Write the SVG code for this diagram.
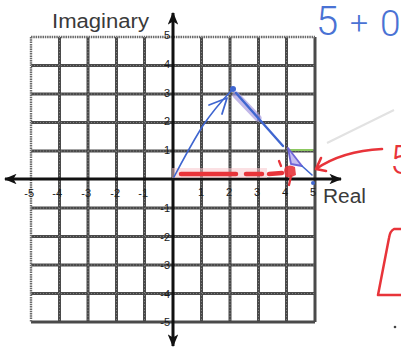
<svg xmlns="http://www.w3.org/2000/svg" width="401" height="350" viewBox="0 0 401 350">
<defs>
<style>
.grid{stroke:#4a4a4a;stroke-width:3;fill:none}
.gridin{stroke:#a8a8a8;stroke-width:0.6;stroke-dasharray:1 2;fill:none}
.border{stroke:#6a6a6a;stroke-width:2.4;fill:none;stroke-dasharray:1.5 0.8}
.axis{stroke:#111;stroke-width:3;fill:none}
.tick{font-family:"Liberation Sans",Arial,sans-serif;font-size:11px;fill:#1a1a1a}
.lbl{font-family:"Liberation Sans",Arial,sans-serif;font-size:20px;fill:#3a3a3a}
.hand{font-family:Roboto,"Liberation Sans",sans-serif;font-weight:300}
.blue{stroke:#3f66d0;fill:none;stroke-linecap:round;stroke-linejoin:round}
.red{stroke:#e8343a;fill:none;stroke-linecap:round;stroke-linejoin:round}
</style>
<marker id="ah" viewBox="0 0 12 10" refX="11" refY="5" markerWidth="4.2" markerHeight="3.6" orient="auto-start-reverse" markerUnits="strokeWidth">
<path d="M0,0 L12,5 L0,10 L3,5 Z" fill="#111"/>
</marker>
</defs>
<rect width="401" height="350" fill="#fff"/>
<g id="grid">
<path class="grid" d="M59.5,37V322M88,37V322M116.5,37V322M144.5,37V322M201.5,37V322M230,37V322M258.5,37V322M286.5,37V322M315,37V322M31,65.5H315M31,94H315M31,122.5H315M31,151H315M31,208H315M31,236.5H315M31,265H315M31,293.5H315M31,322H315"/>
<path class="border" d="M31,37V322M31,37H315"/>
<path class="gridin" d="M59.5,37V322M88,37V322M116.5,37V322M144.5,37V322M201.5,37V322M230,37V322M258.5,37V322M286.5,37V322M31,65.5H315M31,94H315M31,122.5H315M31,151H315M31,208H315M31,236.5H315M31,265H315M31,293.5H315"/>
</g>
<g id="axes">
<line class="axis" x1="5" y1="179" x2="341" y2="179" marker-start="url(#ah)" marker-end="url(#ah)"/>
<line class="axis" x1="173" y1="13" x2="173" y2="346" marker-start="url(#ah)" marker-end="url(#ah)"/>
</g>
<g id="labels">
<text class="lbl" x="52" y="28" textLength="97" lengthAdjust="spacingAndGlyphs">Imaginary</text>
<text class="lbl" x="323" y="203" textLength="43" lengthAdjust="spacingAndGlyphs">Real</text>
</g>
<g id="xticks" class="tick" text-anchor="middle">
<text x="201" y="196">1</text>
<text x="229" y="196">2</text>
<text x="257" y="196">3</text>
<text x="285" y="196">4</text>
<text x="313" y="196">5</text>
</g>
<g id="xnegticks" class="tick" text-anchor="end">
<text x="34" y="197">-5</text>
<text x="62" y="197">-4</text>
<text x="91" y="197">-3</text>
<text x="120" y="197">-2</text>
<text x="148" y="197">-1</text>
</g>
<g id="yticks" class="tick" text-anchor="end">
<text x="170" y="39">5</text>
<text x="170" y="68">4</text>
<text x="170" y="97">3</text>
<text x="170" y="125">2</text>
<text x="170" y="154">1</text>
<text x="170" y="212">-1</text>
<text x="170" y="241">-2</text>
<text x="170" y="269">-3</text>
<text x="170" y="298">-4</text>
<text x="170" y="326">-5</text>
</g>
<g id="annotations">
<line x1="327" y1="143" x2="394" y2="110" stroke="#e2e2e2" stroke-width="2"/>
<rect x="172" y="168" width="95" height="10" fill="#f8c6cc" opacity="0.55"/>
<path class="red" stroke-width="4.5" d="M181,174 L236,174 M246,174 L262,174 M269,174 L282,173"/>
<path fill="#e8343a" opacity="0.9" d="M285,167 Q290,164 295,167 L296,175 Q291,178 286,177 Q283,172 285,167 Z"/>
<path class="red" stroke-width="2.3" d="M291,176 L289,185 M279,161 L281,166"/>
<line x1="288" y1="150" x2="313" y2="150" stroke="#8cc860" stroke-width="2"/>
<path class="blue" stroke-width="1.6" d="M174,177 Q188,150 202,127 Q214,109 231,91"/>
<path class="blue" stroke-width="1.8" d="M209,105 L227,98 L222,114"/>
<circle cx="233" cy="89" r="3" fill="#3f66d0"/>
<path stroke="#a99be0" stroke-width="7" opacity="0.7" stroke-linecap="round" d="M236,95 L258,118"/>
<path class="blue" stroke-width="2.4" d="M236,93 L283,146"/>
<path d="M288,148 L302,166 L291,164 Z" fill="#c6bff0" stroke="#6f66d8" stroke-width="1.8" stroke-linejoin="round"/>
<path class="blue" stroke-width="1.6" d="M302,166 L312,175"/>
<circle cx="313" cy="183" r="2" fill="#3f66d0"/>
<path class="red" stroke-width="2.6" d="M382,149 Q342,151 316,169 M316,169 L321,158 M316,169 L326,171"/>
<path class="red" stroke-width="2.5" d="M401,229 L394,229 Q390,231 389,238 L378,295 L401,295"/>
<circle cx="395" cy="327" r="1.3" fill="#444"/>
<text class="hand" x="316" y="35" font-size="40" fill="#4a72d4">5</text>
<text class="hand" x="350" y="34" font-size="32" fill="#4a72d4">+</text>
<text class="hand" x="380" y="36" font-size="37" fill="#4a72d4">0</text>
<text class="hand" x="390" y="174" font-size="40" fill="#e8343a">5</text>
</g>
</svg>
